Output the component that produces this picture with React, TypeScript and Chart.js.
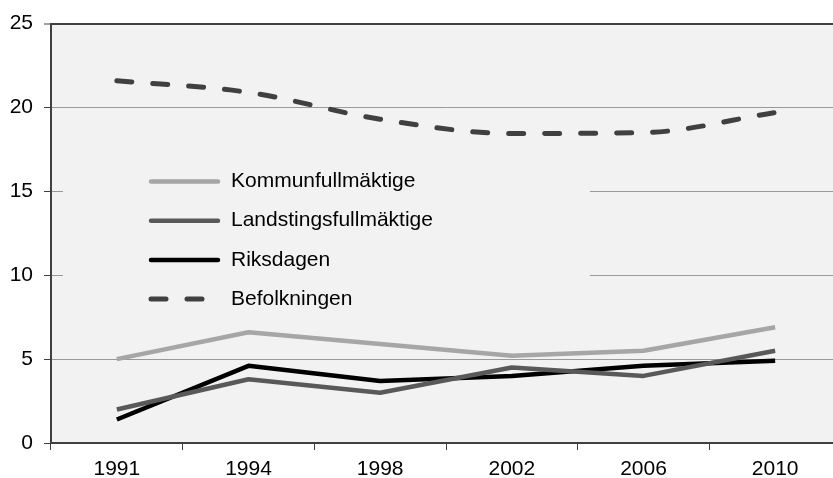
import React, { useEffect, useRef } from "react";
import { Chart, registerables } from "chart.js";

Chart.register(...registerables);

const categories = ["1991", "1994", "1998", "2002", "2006", "2010"];
const seriesLabels = ["Kommunfullmäktige", "Landstingsfullmäktige", "Riksdagen", "Befolkningen"];
const kommun = [5.0, 6.6, 5.9, 5.2, 5.5, 6.9];
const landsting = [2.0, 3.8, 3.0, 4.5, 4.0, 5.5];
const riksdagen = [1.4, 4.6, 3.7, 4.0, 4.6, 4.9];
const befolkningen = [21.6, 20.9, 19.3, 18.45, 18.5, 19.7];
const seriesColors = ["#a6a6a6", "#595959", "#000000", "#404040"];
const yTicks = [0, 5, 10, 15, 20, 25];

const FONT = "'Liberation Sans', Arial, sans-serif";
const FS = 21;

const bgPlugin = {
  id: "plotBg",
  beforeDraw(chart: any) {
    const { ctx, chartArea } = chart;
    ctx.save();
    ctx.fillStyle = "#f2f2f2";
    ctx.fillRect(chartArea.left, chartArea.top, chartArea.right - chartArea.left, chartArea.bottom - chartArea.top);
    ctx.restore();
  },
};

const legendPlugin = {
  id: "innerLegend",
  beforeDatasetsDraw(chart: any) {
    const { ctx } = chart;
    ctx.save();
    ctx.fillStyle = "#f2f2f2";
    ctx.fillRect(63, 150, 527, 172);
    ctx.restore();
  },
  afterDatasetsDraw(chart: any) {
    const { ctx } = chart;
    ctx.save();
    const x0 = 151;
    const x1 = 218;
    const tx = 231;
    const y0 = 181.5;
    const dy = 39.2;
    chart.data.datasets.forEach((ds: any, i: number) => {
      const y = y0 + i * dy;
      ctx.beginPath();
      ctx.strokeStyle = ds.borderColor;
      ctx.lineWidth = ds.borderWidth;
      ctx.lineCap = "round";
      ctx.setLineDash(ds.borderDash || []);
      ctx.moveTo(x0, y);
      ctx.lineTo(x1, y);
      ctx.stroke();
      ctx.setLineDash([]);
      ctx.fillStyle = "#000";
      ctx.font = `${FS}px ${FONT}`;
      ctx.textAlign = "left";
      ctx.textBaseline = "middle";
      ctx.fillText(ds.label, tx, y);
    });
    ctx.restore();
  },
};

export default function App() {
  const ref = useRef<HTMLCanvasElement | null>(null);
  useEffect(() => {
    if (!ref.current) return;
    const seriesData = [kommun, landsting, riksdagen, befolkningen];
    const chart = new Chart(ref.current, {
      type: "line",
      data: {
        labels: categories,
        datasets: seriesData.map((d, i) => ({
          label: seriesLabels[i],
          data: d,
          borderColor: seriesColors[i],
          borderWidth: i === 3 ? 5 : 4.5,
          borderDash: i === 3 ? [15, 21] : undefined,
          borderCapStyle: i === 3 ? "round" : "butt",
          borderJoinStyle: "round",
          pointRadius: 0,
          tension: i === 3 ? 0.4 : 0,
          cubicInterpolationMode: i === 3 ? "monotone" : "default",
          fill: false,
        })),
      },
      options: {
        responsive: false,
        animation: false,
        devicePixelRatio: 1,
        layout: { padding: { top: 21, right: 7, left: 0, bottom: 0 } },
        plugins: { legend: { display: false }, tooltip: { enabled: false } },
        scales: {
          x: {
            offset: true,
            grid: {
              offset: true,
              drawOnChartArea: false,
              drawTicks: true,
              tickLength: 7,
              tickColor: "#404040",
              tickWidth: 1,
            },
            border: { display: true, color: "#404040", width: 2 },
            ticks: { color: "#000", font: { size: FS, family: FONT }, padding: 7, maxRotation: 0 },
            afterFit: (s: any) => {
              s.height = 35;
            },
          },
          y: {
            min: 0,
            max: 25,
            afterBuildTicks: (s: any) => {
              s.ticks = yTicks.map((v) => ({ value: v }));
            },
            grid: {
              color: (c: any) => (c.tick && c.tick.value === 25 ? "#404040" : "#999999"),
              lineWidth: (c: any) => (c.tick && c.tick.value === 25 ? 2 : 1),
              tickLength: 7,
              tickColor: "#404040",
              tickWidth: 1,
            },
            border: { display: true, color: "#404040", width: 2 },
            ticks: { color: "#000", font: { size: FS, family: FONT }, padding: 11 },
            afterFit: (s: any) => {
              s.width = 51;
            },
          },
        },
      },
      plugins: [bgPlugin, legendPlugin],
    } as any);
    return () => chart.destroy();
  }, []);
  return (
    <div style={{ position: "absolute", left: 0, top: 0, width: 833, height: 478, overflow: "hidden", background: "#fff" }}>
      <canvas ref={ref} width={848} height={478} style={{ width: 848, height: 478, display: "block" }} />
    </div>
  );
}
